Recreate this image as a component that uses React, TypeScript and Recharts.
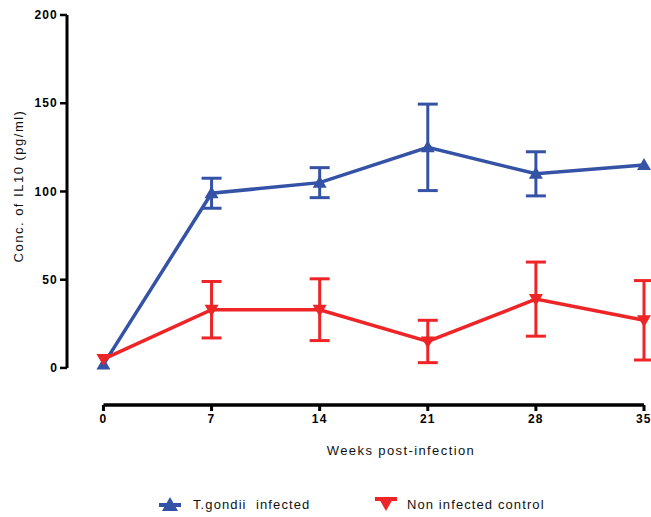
import { LineChart, Line, XAxis, YAxis, ErrorBar, ReferenceLine, Legend } from "recharts";

const weeks = [0, 7, 14, 21, 28, 35];
const infected = [2, 99, 105, 125, 110, 115];
const infectedErr = [0, 8.5, 8.5, 24.5, 12.5, 0];
const control = [5, 33, 33, 15, 39, 27];
const controlErr = [0, 16, 17.5, 12, 21, 22.5];
const xTicks = [0, 7, 14, 21, 28, 35];
const yTicks = [0, 50, 100, 150, 200];

const BLUE = "#3452a6";
const RED = "#ee2426";
const FONT = "'Liberation Sans', Arial, sans-serif";

const data = weeks.map((w, i) => ({
  week: w,
  infected: infected[i],
  infectedErr: infectedErr[i],
  control: control[i],
  controlErr: controlErr[i],
}));

const X_MIN = -2.36;
const Y_MIN = -21;

const tickStyle = {
  fontSize: 12,
  fontWeight: "bold",
  fill: "#000",
  fontFamily: FONT,
  style: { letterSpacing: "1.2px" },
};

function TriUp(props: any) {
  const { cx, cy } = props;
  if (cx == null || cy == null) return null;
  return <polygon points={`${cx - 7},${cy + 5} ${cx + 7},${cy + 5} ${cx},${cy - 7}`} fill={BLUE} />;
}

function TriDown(props: any) {
  const { cx, cy } = props;
  if (cx == null || cy == null) return null;
  return <polygon points={`${cx - 7},${cy - 5} ${cx + 7},${cy - 5} ${cx},${cy + 7}`} fill={RED} />;
}

function LegendContent() {
  const txt = { fontFamily: FONT, fontSize: 13, fill: "#111", style: { whiteSpace: "pre" as const, letterSpacing: "1.1px" } };
  return (
    <svg width={651} height={40} style={{ display: "block" }}>
      <g transform="translate(170,28)">
        <line x1={-11} x2={11} y1={0} y2={0} stroke={BLUE} strokeWidth={4} />
        <polygon points="-8,6 8,6 0,-8" fill={BLUE} />
      </g>
      <text x={193} y={32} {...txt}>
        T.gondii  infected
      </text>
      <g transform="translate(386,25)">
        <line x1={-11} x2={11} y1={-3} y2={-3} stroke={RED} strokeWidth={4} />
        <polygon points="-8,-5 8,-5 0,9" fill={RED} />
      </g>
      <text x={407} y={32} {...txt}>
        Non infected control
      </text>
    </svg>
  );
}

export default function App() {
  return (
    <div style={{ position: "absolute", left: 0, top: 0, background: "#fff" }}>
      <LineChart
        width={651}
        height={517}
        data={data}
        margin={{ top: 15, right: 7, left: 0, bottom: 0 }}
      >
        <XAxis
          dataKey="week"
          type="number"
          domain={[X_MIN, 35]}
          ticks={xTicks}
          axisLine={false}
          tickLine={{ stroke: "#000", strokeWidth: 3 }}
          tickSize={6}
          tickMargin={3}
          height={72}
          tick={tickStyle}
          label={{
            content: () => (
              <text
                x={401}
                y={455}
                textAnchor="middle"
                fontFamily={FONT}
                fontSize={13}
                fill="#111"
                style={{ letterSpacing: "1.4px" }}
              >
                Weeks post-infection
              </text>
            ),
          }}
        />
        <YAxis
          type="number"
          domain={[Y_MIN, 200]}
          ticks={yTicks}
          width={67}
          axisLine={false}
          tickLine={{ stroke: "#000", strokeWidth: 2.5 }}
          tickSize={7}
          tickMargin={2}
          tick={tickStyle}
          label={{
            content: () => (
              <text
                transform="translate(23,186) rotate(-90)"
                textAnchor="middle"
                fontFamily={FONT}
                fontSize={13}
                fill="#111"
                style={{ letterSpacing: "1.5px" }}
              >
                Conc. of IL10 (pg/ml)
              </text>
            ),
          }}
        />
        <ReferenceLine
          segment={[
            { x: X_MIN, y: 0 },
            { x: X_MIN, y: 200 },
          ]}
          stroke="#000"
          strokeWidth={3}
        />
        <ReferenceLine
          segment={[
            { x: 0, y: Y_MIN },
            { x: 35, y: Y_MIN },
          ]}
          stroke="#000"
          strokeWidth={3.5}
        />
        <Legend verticalAlign="bottom" height={40} content={LegendContent} />
        <Line
          dataKey="infected"
          stroke={BLUE}
          strokeWidth={3.5}
          dot={TriUp}
          activeDot={false}
          isAnimationActive={false}
        >
          <ErrorBar dataKey="infectedErr" width={10} stroke={BLUE} strokeWidth={3} />
        </Line>
        <Line
          dataKey="control"
          stroke={RED}
          strokeWidth={3.5}
          dot={TriDown}
          activeDot={false}
          isAnimationActive={false}
        >
          <ErrorBar dataKey="controlErr" width={10} stroke={RED} strokeWidth={3} />
        </Line>
      </LineChart>
    </div>
  );
}
